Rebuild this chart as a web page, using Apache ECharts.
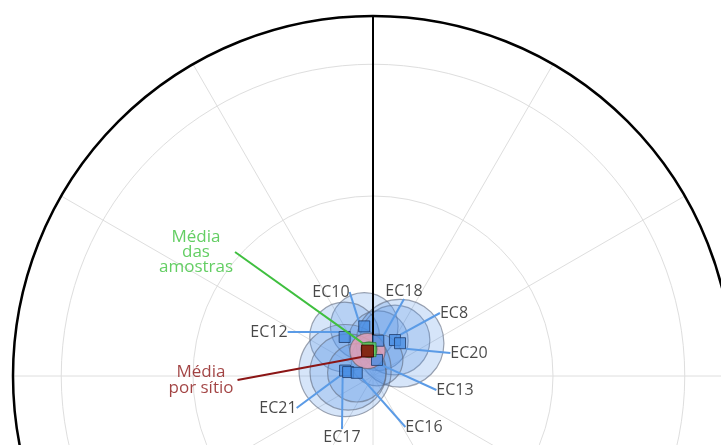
<!DOCTYPE html>
<html>
<head>
<meta charset="utf-8">
<script src="https://cdn.jsdelivr.net/npm/echarts@6/dist/echarts.min.js"></script>
<style>
  html, body { margin: 0; padding: 0; background: #ffffff; }
  #chart { width: 721px; height: 445px; }
</style>
</head>
<body>
<div id="chart"></div>
<script>
// Site mean directions in the projection: declination (deg, clockwise from N),
// radial distance (fraction of the primitive circle) and the a95 cone radius (same unit).
const sites   = ['EC10', 'EC12', 'EC18', 'EC8', 'EC20', 'EC13', 'EC21', 'EC17', 'EC16'];
const siteDec = [350, 324, 8.5, 31.4, 39.5, 14, 281, 279, 281];
const siteRad = [0.140, 0.134, 0.099, 0.117, 0.118, 0.046, 0.079, 0.070, 0.046];
const siteA95 = [0.094, 0.097, 0.083, 0.097, 0.122, 0.072, 0.128, 0.106, 0.081];

// Overall means: mean of all samples and mean of site means
const sampleMean = { label: 'Média\ndas\namostras', dec: 351.4, rad: 0.074, a95: 0.022 };
const siteMean   = { label: 'Média\npor sítio',    dec: 347.6, rad: 0.071, a95: 0.049 };

// Reference grid: concentric rings (fraction of primitive) and spoke spacing in degrees
const gridRings = [0.5, 0.866];
const spokeStep = 30;

// North reference line: [radius, angle] end points
const northLine = [[1, 0], [0.09, 0]];

// Label placement (pixel centres of each text block)
const labelSpots = {
  EC10: [331, 292], EC12: [269, 332], EC18: [404, 291], EC8: [454, 313],
  EC20: [469, 353], EC13: [455, 390], EC21: [278, 408], EC17: [342, 437],
  EC16: [424, 427]
};
const sampleMeanSpot = [196, 234];
const siteMeanSpot = [201, 380];

const FONT = 'Open Sans';
const CENTER = [373, 376];
const RADIUS = 360;

const chart = echarts.init(document.getElementById('chart'), null, { renderer: 'canvas' });

const siteData = sites.map((n, i) => ({ name: n, value: [siteRad[i], siteDec[i], siteA95[i]] }));

function coneItem(fill, stroke) {
  return function (params, api) {
    const c = api.coord([api.value(0), api.value(1)]);
    const o = api.coord([0, 0]);
    const e = api.coord([api.value(2), 0]);
    const r = Math.hypot(e[0] - o[0], e[1] - o[1]);
    return {
      type: 'circle',
      shape: { cx: c[0], cy: c[1], r: r },
      style: { fill: fill, stroke: stroke, lineWidth: 1.2 }
    };
  };
}

const axisOff = { axisLine: { show: false }, axisTick: { show: false }, axisLabel: { show: false } };
const gridLine = { show: true, lineStyle: { color: '#dedede', width: 1 } };

// the sample-mean caption carries extra bottom padding so its leader leaves from the text's lower right
const SAMPLE_PAD_BOTTOM = 36;

const option = {
  animation: false,
  backgroundColor: '#ffffff',
  polar: [
    { center: CENTER, radius: RADIUS },
    { center: CENTER, radius: RADIUS }
  ],
  angleAxis: [
    {
      polarIndex: 0, type: 'value', min: 0, max: 360, interval: spokeStep,
      startAngle: 90, clockwise: true,
      axisLine: { show: true, lineStyle: { color: '#000000', width: 2.5 } },
      axisTick: { show: false }, axisLabel: { show: false },
      splitLine: gridLine
    },
    { polarIndex: 1, type: 'value', min: 0, max: 360, startAngle: 90, show: false }
  ],
  radiusAxis: [
    Object.assign({ polarIndex: 0, type: 'value', min: 0, max: 1, interval: gridRings[0], splitLine: gridLine }, axisOff),
    Object.assign({ polarIndex: 1, type: 'value', min: 0, max: 1, interval: gridRings[1], splitLine: gridLine }, axisOff)
  ],
  series: [
    {
      type: 'custom', coordinateSystem: 'polar', polarIndex: 0, z: 2,
      renderItem: coneItem('rgba(84,146,228,0.24)', 'rgba(95,105,125,0.6)'),
      data: siteData.map(d => d.value)
    },
    {
      type: 'custom', coordinateSystem: 'polar', polarIndex: 0, z: 3,
      renderItem: coneItem('rgba(236,160,178,0.8)', 'rgba(110,100,110,0.7)'),
      data: [[siteMean.rad, siteMean.dec, siteMean.a95]]
    },
    {
      type: 'custom', coordinateSystem: 'polar', polarIndex: 0, z: 3,
      renderItem: coneItem('rgba(110,200,110,0.75)', 'rgba(60,120,60,0.7)'),
      data: [[sampleMean.rad, sampleMean.dec, sampleMean.a95]]
    },
    {
      type: 'line', coordinateSystem: 'polar', polarIndex: 0, z: 4,
      symbol: 'none', silent: true,
      lineStyle: { color: '#000000', width: 2 },
      data: northLine
    },
    {
      type: 'scatter', coordinateSystem: 'polar', polarIndex: 0, z: 5,
      symbol: 'rect', symbolSize: 11,
      itemStyle: { color: '#4a8fe3', borderColor: '#1e3a66', borderWidth: 1 },
      data: siteData.map(d => ({ name: d.name, value: [d.value[0], d.value[1]] })),
      label: {
        show: true, formatter: '{b}', color: '#1a1a1a',
        fontFamily: FONT, fontSize: 16, padding: [4, 8]
      },
      labelLayout: function (p) {
        const s = labelSpots[sites[p.dataIndex]];
        return { x: s[0], y: s[1], align: 'center', verticalAlign: 'middle' };
      },
      labelLine: { show: true, length2: 0, lineStyle: { color: '#5b9be6', width: 2 } }
    },
    {
      type: 'scatter', coordinateSystem: 'polar', polarIndex: 0, z: 6,
      symbol: 'rect', symbolSize: 14,
      itemStyle: { color: '#5fcf5f', borderColor: '#2f7a2f', borderWidth: 1 },
      data: [{ name: sampleMean.label, value: [sampleMean.rad, sampleMean.dec] }],
      label: {
        show: true, formatter: '{b}', color: '#3cc23c',
        fontFamily: FONT, fontSize: 17, lineHeight: 15, align: 'center',
        padding: [0, 2, SAMPLE_PAD_BOTTOM, 2]
      },
      labelLayout: function () {
        return {
          x: sampleMeanSpot[0], y: sampleMeanSpot[1] + SAMPLE_PAD_BOTTOM / 2,
          align: 'center', verticalAlign: 'middle'
        };
      },
      labelLine: { show: true, length2: 0, lineStyle: { color: '#3fbf3f', width: 2 } }
    },
    {
      type: 'scatter', coordinateSystem: 'polar', polarIndex: 0, z: 7,
      symbol: 'rect', symbolSize: 12,
      itemStyle: { color: '#8b0000', borderColor: '#3a0000', borderWidth: 1 },
      data: [{ name: siteMean.label, value: [siteMean.rad, siteMean.dec] }],
      label: {
        show: true, formatter: '{b}', color: '#8b1414',
        fontFamily: FONT, fontSize: 17, lineHeight: 16, align: 'center', padding: [0, 4]
      },
      labelLayout: function () {
        return { x: siteMeanSpot[0], y: siteMeanSpot[1], align: 'center', verticalAlign: 'middle' };
      },
      labelLine: { show: true, length2: 0, lineStyle: { color: '#8b1515', width: 2 } }
    }
  ]
};

chart.setOption(option);
</script>
</body>
</html>
